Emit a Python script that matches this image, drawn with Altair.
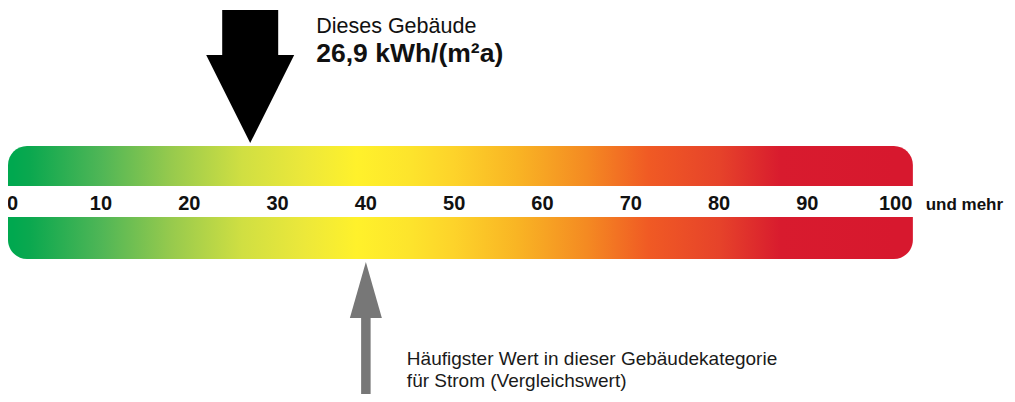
import altair as alt
import pandas as pd

# ---- data ----
tick_values = [0, 10, 20, 30, 40, 50, 60, 70, 80, 90, 100]
tick_labels = ["0", "10", "20", "30", "40", "50", "60", "70", "80", "90", "100"]
open_end_label = "und mehr"

scale_start = -0.53   # left end of the colour band (kWh/(m²a))
scale_end = 101.95    # right end of the colour band

building_value = 26.9
building_title = "Dieses Gebäude"
building_label = "26,9 kWh/(m²a)"

reference_value = 40
reference_lines = ["Häufigster Wert in dieser Gebäudekategorie",
                   "für Strom (Vergleichswert)"]

gradient_values = [0, 2, 10, 18, 26, 33, 39, 45, 50, 57, 65, 72, 80, 87, 100]
gradient_colors = ["#00a84f", "#0ba84f", "#4fb656", "#97ca4d", "#d0df42",
                   "#ece83a", "#fff12b", "#fde42c", "#fdd32a", "#f9b524",
                   "#f48a22", "#f05a24", "#e6432a", "#d81b2e", "#d7182e"]

# ---- tables ----
span = scale_end - scale_start
stops = [alt.GradientStop(offset=round((v - scale_start) / span, 4), color=c)
         for v, c in zip(gradient_values, gradient_colors)]
grad = alt.LinearGradient(gradient="linear", stops=stops, x1=0, x2=1, y1=0, y2=0)

band_df = pd.DataFrame({"start": [scale_start], "end": [scale_end]})
ticks_df = pd.DataFrame({"value": tick_values, "label": tick_labels})
bld_df = pd.DataFrame({"value": [building_value]})
ref_df = pd.DataFrame({"value": [reference_value]})

FONT = "Liberation Sans"
W, H = 999, 386
xscale = alt.Scale(domain=[-0.53, 112.61], nice=False, zero=False)

x_start = alt.X("start:Q", scale=xscale, axis=None)
x_val = alt.X("value:Q", scale=xscale, axis=None)

top_band = alt.Chart(band_df).mark_rect(
    fill=grad, cornerRadiusTopLeft=19, cornerRadiusTopRight=19
).encode(x=x_start, x2="end:Q", y=alt.value(138), y2=alt.value(178))

bottom_band = alt.Chart(band_df).mark_rect(
    fill=grad, cornerRadiusBottomLeft=19, cornerRadiusBottomRight=19
).encode(x=x_start, x2="end:Q", y=alt.value(209), y2=alt.value(251))

tick_text = alt.Chart(ticks_df).mark_text(
    font=FONT, fontSize=20, fontWeight="bold", color="#111111",
    align="center", baseline="alphabetic"
).encode(x=x_val, y=alt.value(202), text="label:N")

open_end = alt.Chart(ticks_df.tail(1)).mark_text(
    font=FONT, fontSize=17, fontWeight="bold", color="#111111",
    align="left", baseline="alphabetic", dx=30
).encode(x=x_val, y=alt.value(202), text=alt.value(open_end_label))

# black arrow (this building)
bld_shaft = alt.Chart(bld_df).mark_rule(
    color="black", strokeWidth=56, strokeCap="butt"
).encode(x=x_val, y=alt.value(2), y2=alt.value(48))
bld_head = alt.Chart(bld_df).mark_point(
    shape="M-1,-1L1,-1L0,1Z", size=7744, filled=True, color="black",
    opacity=1, strokeWidth=0
).encode(x=x_val, y=alt.value(91))
bld_title = alt.Chart(bld_df).mark_text(
    font=FONT, fontSize=21.5, color="#111111", align="left",
    baseline="alphabetic", dx=66
).encode(x=x_val, y=alt.value(25), text=alt.value(building_title))
bld_label = alt.Chart(bld_df).mark_text(
    font=FONT, fontSize=26.5, fontWeight="bold", color="#111111", align="left",
    baseline="alphabetic", dx=66
).encode(x=x_val, y=alt.value(54), text=alt.value(building_label))

# grey arrow (reference value)
ref_shaft = alt.Chart(ref_df).mark_rule(
    color="#777777", strokeWidth=9.5, strokeCap="butt"
).encode(x=x_val, y=alt.value(300), y2=alt.value(H))
ref_head = alt.Chart(ref_df).mark_point(
    shape="M0,-1L0.571,1L-0.571,1Z", size=3136, filled=True, color="#777777",
    opacity=1, strokeWidth=0
).encode(x=x_val, y=alt.value(282))
ref_l1 = alt.Chart(ref_df).mark_text(
    font=FONT, fontSize=19, color="#1a1a1a", align="left",
    baseline="alphabetic", dx=41
).encode(x=x_val, y=alt.value(357), text=alt.value(reference_lines[0]))
ref_l2 = alt.Chart(ref_df).mark_text(
    font=FONT, fontSize=19, color="#1a1a1a", align="left",
    baseline="alphabetic", dx=41
).encode(x=x_val, y=alt.value(379), text=alt.value(reference_lines[1]))

chart = alt.layer(
    top_band, bottom_band, tick_text, open_end,
    bld_shaft, bld_head, bld_title, bld_label,
    ref_shaft, ref_head, ref_l1, ref_l2
).properties(
    width=W, height=H, padding=0, autosize=alt.AutoSizeParams(type="none"),
    background="white"
).configure_view(stroke=None)

chart.save("out.html", embed_options={"renderer": "svg", "actions": False})
